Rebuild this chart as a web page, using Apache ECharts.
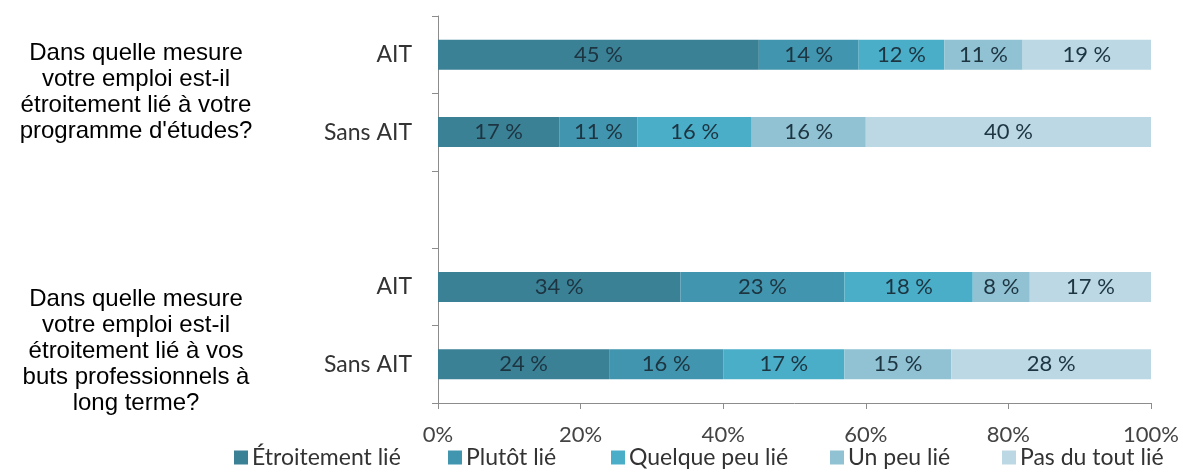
<!DOCTYPE html>
<html>
<head>
<meta charset="utf-8">
<script src="https://cdn.jsdelivr.net/npm/echarts@6/dist/echarts.min.js"></script>
<style>
  html, body { margin: 0; padding: 0; background: #ffffff; }
  #chart { width: 1183px; height: 472px; }
</style>
</head>
<body>
<div id="chart"></div>
<script>
// Row labels (top to bottom); the empty slot separates the two questions
const rows = ['AIT', 'Sans AIT', '', 'AIT', 'Sans AIT'];

// Share of respondents per answer, one array per answer level (in %)
const etroitement = [45, 17, null, 34, 24];
const plutot      = [14, 11, null, 23, 16];
const quelquePeu  = [12, 16, null, 18, 17];
const unPeu       = [11, 16, null, 8, 15];
const pasDuTout   = [19, 40, null, 17, 28];

const seriesNames = ['Étroitement lié', 'Plutôt lié', 'Quelque peu lié', 'Un peu lié', 'Pas du tout lié'];
const seriesData = [etroitement, plutot, quelquePeu, unPeu, pasDuTout];
const colors = ['#3b8196', '#4195ae', '#4aaec8', '#90c2d3', '#bcd8e4'];

// Question texts shown to the left of each pair of bars
const question1 = ['Dans quelle mesure', 'votre emploi est-il', 'étroitement lié à votre', "programme d'études?"];
const question2 = ['Dans quelle mesure', 'votre emploi est-il', 'étroitement lié à vos', 'buts professionnels à', 'long terme?'];

const chart = echarts.init(document.getElementById('chart'));

const uiFont = 'Lato, "Open Sans", sans-serif';
const questionFont = '"Liberation Sans", Arial, sans-serif';

const series = seriesNames.map((name, i) => ({
  name: name,
  type: 'bar',
  stack: 'total',
  barWidth: 30,
  clip: true,
  itemStyle: { color: colors[i] },
  label: {
    show: true,
    position: 'inside',
    color: '#1d3441',
    fontFamily: uiFont,
    fontSize: 22,
    formatter: p => p.value == null ? '' : p.value + ' %'
  },
  data: seriesData[i]
}));

// One legend block per answer level so each entry sits at its own spot
const legendLefts = [234, 448, 611, 830, 1002];
const legends = seriesNames.map((name, i) => ({
  top: 446,
  left: legendLefts[i],
  padding: 0,
  itemWidth: 14,
  itemHeight: 14,
  itemGap: 0,
  icon: 'rect',
  selectedMode: false,
  textStyle: { color: '#333333', fontSize: 23, fontFamily: uiFont, padding: [0, 0, 0, -1] },
  data: [name]
}));

const questionStyle = {
  textAlign: 'center',
  textVerticalAlign: 'top',
  fill: '#000000',
  fontFamily: questionFont,
  fontSize: 24,
  lineHeight: 26
};

chart.setOption({
  animation: false,
  color: colors,
  textStyle: { fontFamily: uiFont },
  grid: { left: 438, right: 32, top: 16, bottom: 69 },
  xAxis: {
    type: 'value',
    min: 0,
    max: 100,
    interval: 20,
    splitLine: { show: false },
    axisLine: { show: true, lineStyle: { color: '#8c8c8c', width: 1 } },
    axisTick: { show: true, length: 6, lineStyle: { color: '#8c8c8c' } },
    axisLabel: {
      color: '#444444',
      fontSize: 22,
      fontFamily: uiFont,
      margin: 21,
      formatter: v => v + '%'
    }
  },
  yAxis: {
    type: 'category',
    data: rows,
    inverse: true,
    axisLine: { show: true, lineStyle: { color: '#8c8c8c', width: 1 } },
    axisTick: { show: true, length: 6, lineStyle: { color: '#8c8c8c' } },
    axisLabel: {
      color: '#333333',
      fontSize: 23,
      fontFamily: uiFont,
      margin: 26
    }
  },
  legend: legends,
  graphic: [
    {
      type: 'text',
      style: Object.assign({ text: question1.join('\n'), x: 136, y: 40 }, questionStyle)
    },
    {
      type: 'text',
      style: Object.assign({ text: question2.join('\n'), x: 136, y: 286 }, questionStyle)
    }
  ],
  series: series
});
</script>
</body>
</html>
